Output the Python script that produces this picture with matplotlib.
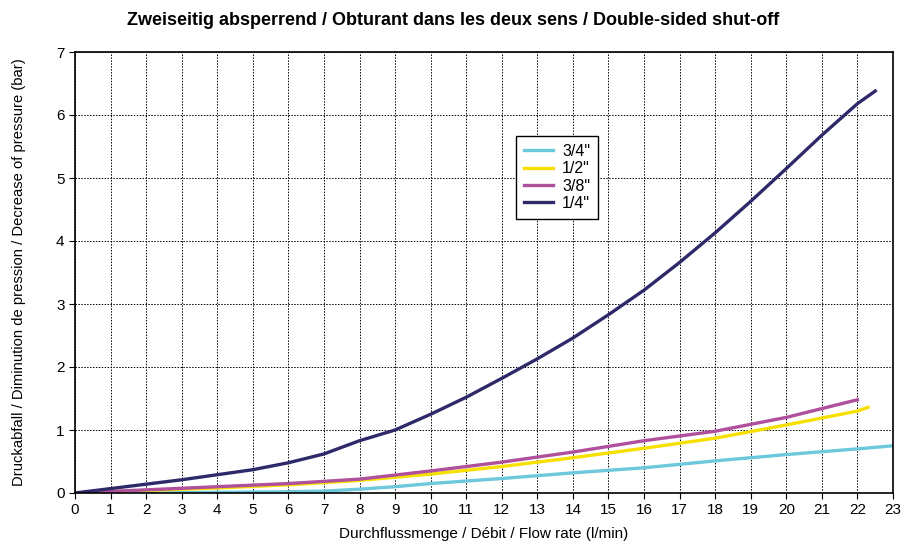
import numpy as np
import matplotlib.pyplot as plt

plt.rcParams['font.family'] = ['Liberation Sans', 'DejaVu Sans']

# Data
x_34 = [0, 2, 4, 6, 7, 8, 9, 10, 12, 14, 16, 18, 20, 22, 23]
y_34 = [0, 0.0, 0.01, 0.02, 0.03, 0.06, 0.10, 0.15, 0.23, 0.32, 0.40, 0.51, 0.61, 0.70, 0.75]

x_12 = [0, 2, 4, 6, 8, 10, 12, 14, 16, 18, 20, 22, 22.3]
y_12 = [0, 0.04, 0.08, 0.13, 0.20, 0.30, 0.42, 0.56, 0.71, 0.87, 1.08, 1.30, 1.36]

x_38 = [0, 2, 4, 6, 8, 10, 12, 14, 16, 18, 20, 22]
y_38 = [0, 0.05, 0.10, 0.15, 0.22, 0.35, 0.49, 0.65, 0.83, 0.98, 1.20, 1.48]

x_14 = [0, 1, 2, 3, 4, 5, 6, 7, 8, 9, 10, 11, 12, 13, 14, 15, 16, 17, 18, 19, 20, 21, 22, 22.5]
y_14 = [0, 0.07, 0.14, 0.21, 0.29, 0.37, 0.48, 0.62, 0.83, 1.0, 1.25, 1.52, 1.82, 2.13, 2.46, 2.83, 3.22, 3.66, 4.13, 4.63, 5.15, 5.68, 6.18, 6.38]

fig = plt.figure(figsize=(9.06, 5.44), dpi=100)
ax = fig.add_axes([75/906, 1-493/544, (893-75)/906, (493-52)/544])

ax.plot(x_34, y_34, color='#6CC8DC', lw=2.4, label='3/4"')
ax.plot(x_12, y_12, color='#F7E000', lw=2.4, label='1/2"')
ax.plot(x_38, y_38, color='#B0509C', lw=2.4, label='3/8"')
ax.plot(x_14, y_14, color='#2E2A6A', lw=2.4, label='1/4"')

ax.set_xlim(0, 23)
ax.set_ylim(0, 7)
ax.set_xticks(range(0, 24))
ax.set_yticks(range(0, 8))
ax.grid(True, color='black', linestyle=(0, (1.5, 1.5)), linewidth=0.7)
ax.tick_params(labelsize=11, direction='out', length=4)
for s in ax.spines.values():
    s.set_linewidth(1.2)

ax.set_xlabel('Durchflussmenge / Débit / Flow rate (l/min)', fontsize=11, labelpad=7)
ax.set_ylabel('Druckabfall / Diminution de pression / Decrease of pressure (bar)', fontsize=10.6, labelpad=22)
fig.suptitle('Zweiseitig absperrend / Obturant dans les deux sens / Double-sided shut-off',
             fontsize=13, fontweight='bold', y=0.978)

leg = ax.legend(loc='upper left', bbox_to_anchor=(0.539, 0.81), fontsize=11.5,
                fancybox=False, framealpha=1, edgecolor='black', borderaxespad=0,
                handlelength=1.8, labelspacing=0.15, borderpad=0.5, handletextpad=0.6)
leg.get_frame().set_linewidth(1.0)

plt.savefig('out.png')
plt.close()
